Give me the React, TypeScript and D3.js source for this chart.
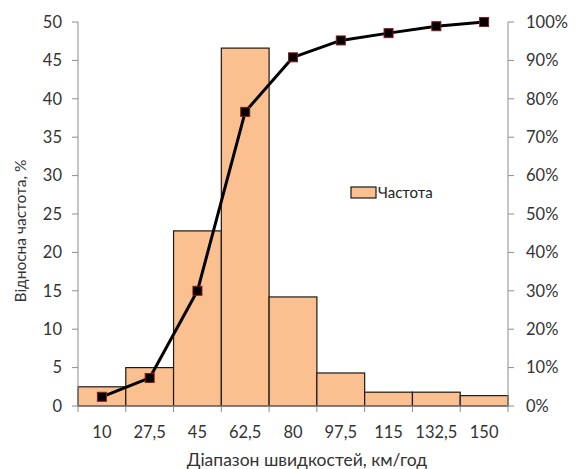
import React from "react";
import * as d3 from "d3";

const W = 576;
const H = 469;

const categories = ["10", "27,5", "45", "62,5", "80", "97,5", "115", "132,5", "150"];
const frequency = [2.5, 5.0, 22.8, 46.6, 14.2, 4.3, 1.8, 1.8, 1.35];
const cumulative = [2.4, 7.3, 30.0, 76.6, 90.8, 95.2, 97.1, 98.9, 100];
const leftTicks = [0, 5, 10, 15, 20, 25, 30, 35, 40, 45, 50];
const rightTicks = [0, 10, 20, 30, 40, 50, 60, 70, 80, 90, 100];

const margin = { left: 78, right: 68, top: 22, bottom: 63 };
const FONT = "Lato, 'Open Sans', sans-serif";
const AXIS = "#8c8c8c";
const TICK_FS = 16.5;

export default function App() {
  const x0 = margin.left;
  const x1 = W - margin.right;
  const yBottom = H - margin.bottom;

  const x = d3.scaleBand<string>().domain(categories).range([x0, x1]).padding(0);
  const y = d3.scaleLinear().domain([0, 50]).range([yBottom, margin.top]);
  const y2 = d3.scaleLinear().domain([0, 100]).range([yBottom, margin.top]);

  const line = d3
    .line<number>()
    .x((_, i) => x(categories[i])! + x.bandwidth() / 2)
    .y((d) => y2(d));

  const bounds = categories.map((c) => x(c)!).concat([x1]);

  return (
    <svg width={W} height={H} style={{ position: "absolute", left: 0, top: 0 }} fontFamily={FONT}>
      <rect width={W} height={H} fill="#fff" />
      {frequency.map((v, i) => (
        <rect
          key={i}
          x={x(categories[i])}
          y={y(v)}
          width={x.bandwidth()}
          height={yBottom - y(v)}
          fill="#fac090"
          stroke="#1a1a1a"
          strokeWidth={1.2}
        />
      ))}
      {/* left axis */}
      <line x1={x0} x2={x0} y1={margin.top} y2={yBottom} stroke={AXIS} />
      {leftTicks.map((t) => (
        <g key={t}>
          <line x1={x0 - 6} x2={x0} y1={y(t)} y2={y(t)} stroke={AXIS} />
          <text x={x0 - 16} y={y(t)} dy="0.35em" textAnchor="end" fontSize={TICK_FS} fill="#333">
            {t}
          </text>
        </g>
      ))}
      {/* right axis */}
      <line x1={x1} x2={x1} y1={margin.top} y2={yBottom} stroke={AXIS} />
      {rightTicks.map((t) => (
        <g key={t}>
          <line x1={x1} x2={x1 + 6} y1={y2(t)} y2={y2(t)} stroke={AXIS} />
          <text x={x1 + 18} y={y2(t)} dy="0.35em" textAnchor="start" fontSize={TICK_FS} fill="#333">
            {t}%
          </text>
        </g>
      ))}
      {/* bottom axis */}
      <line x1={x0} x2={x1} y1={yBottom} y2={yBottom} stroke={AXIS} />
      {bounds.map((b, i) => (
        <line key={i} x1={b} x2={b} y1={yBottom} y2={yBottom + 6} stroke={AXIS} />
      ))}
      {categories.map((c) => (
        <text
          key={c}
          x={x(c)! + x.bandwidth() / 2}
          y={yBottom + 26}
          dy="0.35em"
          textAnchor="middle"
          fontSize={TICK_FS}
          fill="#333"
        >
          {c}
        </text>
      ))}
      {/* cumulative line */}
      <path d={line(cumulative) || ""} fill="none" stroke="#000" strokeWidth={3} strokeLinejoin="round" />
      {cumulative.map((v, i) => (
        <rect
          key={i}
          x={x(categories[i])! + x.bandwidth() / 2 - 4.5}
          y={y2(v) - 4.5}
          width={9}
          height={9}
          fill="#000"
          stroke="#8b1a1a"
          strokeWidth={1}
        />
      ))}
      {/* legend */}
      <rect x={351} y={187} width={25} height={11} fill="#fac090" stroke="#1a1a1a" strokeWidth={1.2} />
      <text x={378} y={192.5} dy="0.35em" fontSize={15} fill="#222">
        Частота
      </text>
      {/* titles */}
      <text x={307} y={460} dy="0.35em" textAnchor="middle" fontSize={17.5} fill="#333">
        Діапазон швидкостей, км/год
      </text>
      <text
        transform={`translate(21,231) rotate(-90)`}
        dy="0.35em"
        textAnchor="middle"
        fontSize={15.5}
        fill="#333"
      >
        Відносна частота, %
      </text>
    </svg>
  );
}
